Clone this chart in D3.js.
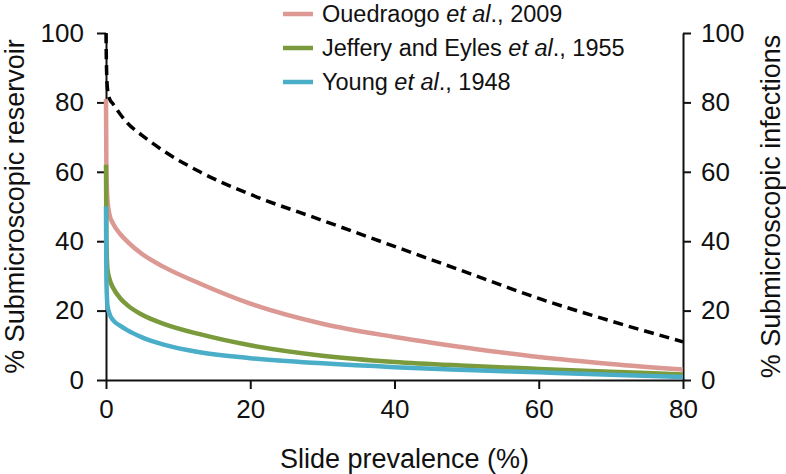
<!DOCTYPE html>
<html>
<head>
<meta charset="utf-8">
<script src="https://d3js.org/d3.v7.min.js"></script>
<style>
  body { margin: 0; background: #fff; }
  text { font-family: "Liberation Sans", Arial, sans-serif; fill: #111; }
</style>
</head>
<body>
<div id="chart"></div>
<script>
// slide prevalence (%) sample points
var prevalence = [0, 0.05, 0.2, 0.5, 1, 2, 3, 5, 8, 13, 20, 30, 40, 50, 60, 70, 80];

// % submicroscopic reservoir (left axis)
var ouedraogo = [81, 62, 52, 47.5, 45, 42, 39.8, 36.3, 32.6, 27.8, 22, 16.2, 12.4, 9.3, 6.6, 4.6, 3];
var jeffery   = [62, 42, 32, 29, 26.5, 23.5, 21.5, 18.8, 16.2, 13.2, 10, 7, 5.2, 4.1, 3.2, 2.4, 1.6];
var young     = [50, 30, 21.5, 19, 17.2, 15.6, 14.3, 12.3, 10.2, 8, 6.3, 4.8, 3.7, 2.9, 2.2, 1.5, 0.9];

// % submicroscopic infections (right axis)
var infections = [100, 92, 84, 81, 79.5, 76.5, 74, 70.5, 66, 60, 53.5, 46, 38.5, 31, 23.5, 17, 11];

var seriesNames = ["Ouedraogo", "Jeffery and Eyles", "Young"],
    seriesYears = ["2009", "1955", "1948"],
    colorMap = ["#dc9892", "#7a9a3c", "#4aaec8"];

var xTicks = [0, 20, 40, 60, 80],
    yTicks = [0, 20, 40, 60, 80, 100];

var svg_dx = 786,
    svg_dy = 474,
    margin = {top: 33, right: 103, bottom: 94, left: 106},
    width = svg_dx - margin.left - margin.right,
    height = svg_dy - margin.top - margin.bottom;

var x = d3.scaleLinear().domain([0, 80]).range([0, width]);
var y = d3.scaleLinear().domain([0, 100]).range([height, 0]);
var y2 = d3.scaleLinear().domain([0, 100]).range([height, 0]);

var svg = d3.select("#chart")
    .append("svg")
    .attr("width", svg_dx)
    .attr("height", svg_dy);

var g = svg.append("g")
    .attr("transform", "translate(" + margin.left + "," + margin.top + ")");

function styleAxis(sel) {
    sel.select(".domain").attr("stroke", "#111").attr("stroke-width", 2);
    sel.selectAll(".tick line").attr("stroke", "#111").attr("stroke-width", 2);
    sel.selectAll(".tick text")
       .style("font-family", "'Liberation Sans', Arial, sans-serif")
       .style("font-size", "26px")
       .attr("fill", "#111");
}

// axes
g.append("g")
  .attr("transform", "translate(0," + height + ")")
  .call(d3.axisBottom(x).tickValues(xTicks).tickSize(9).tickSizeOuter(0).tickPadding(11))
  .call(styleAxis);

g.append("g")
  .call(d3.axisLeft(y).tickValues(yTicks).tickSize(9).tickSizeOuter(0).tickPadding(13))
  .call(styleAxis);

g.append("g")
  .attr("transform", "translate(" + width + ",0)")
  .call(d3.axisRight(y2).tickValues(yTicks).tickSize(8).tickSizeOuter(0).tickPadding(10))
  .call(styleAxis);

// axis titles
g.append("text")
  .attr("text-anchor", "middle")
  .attr("x", width / 2 + 10)
  .attr("y", height + 88)
  .style("font-size", "27px")
  .text("Slide prevalence (%)");

g.append("text")
  .attr("text-anchor", "middle")
  .attr("transform", "rotate(-90)")
  .attr("x", -height / 2)
  .attr("y", -margin.left + 24)
  .style("font-size", "27px")
  .text("% Submicroscopic reservoir");

g.append("text")
  .attr("text-anchor", "middle")
  .attr("transform", "rotate(-90)")
  .attr("x", -height / 2)
  .attr("y", width + 97)
  .style("font-size", "27px")
  .text("% Submicroscopic infections");

// curves
var line = d3.line()
    .x(function(d) { return x(d[0]); })
    .y(function(d) { return y(d[1]); })
    .curve(d3.curveMonotoneX);

[ouedraogo, jeffery, young].forEach(function(vals, i) {
    g.append("path")
      .datum(prevalence.map(function(p, j) { return [p, vals[j]]; }))
      .attr("fill", "none")
      .attr("stroke", colorMap[i])
      .attr("stroke-width", 4.5)
      .attr("d", line);
});

g.append("path")
  .datum(prevalence.map(function(p, j) { return [p, infections[j]]; }))
  .attr("fill", "none")
  .attr("stroke", "#000")
  .attr("stroke-width", 3.5)
  .attr("stroke-dasharray", "10,6")
  .attr("d", d3.line()
      .x(function(d) { return x(d[0]); })
      .y(function(d) { return y2(d[1]); })
      .curve(d3.curveMonotoneX));

// legend
var legend = svg.selectAll("g.legend")
    .data(seriesNames)
    .enter()
    .append("g")
    .attr("class", "legend")
    .attr("transform", function(d, i) { return "translate(283," + (14 + i * 34) + ")"; });

legend.append("line")
  .attr("x1", 0)
  .attr("x2", 30)
  .attr("stroke", function(d, i) { return colorMap[i]; })
  .attr("stroke-width", 4.5);

var lt = legend.append("text")
  .attr("x", 39)
  .attr("y", 8)
  .style("font-size", "23.5px");

lt.append("tspan").text(function(d) { return d + " "; });
lt.append("tspan").style("font-style", "italic").text("et al");
lt.append("tspan").text(function(d, i) { return "., " + seriesYears[i]; });
</script>
</body>
</html>
